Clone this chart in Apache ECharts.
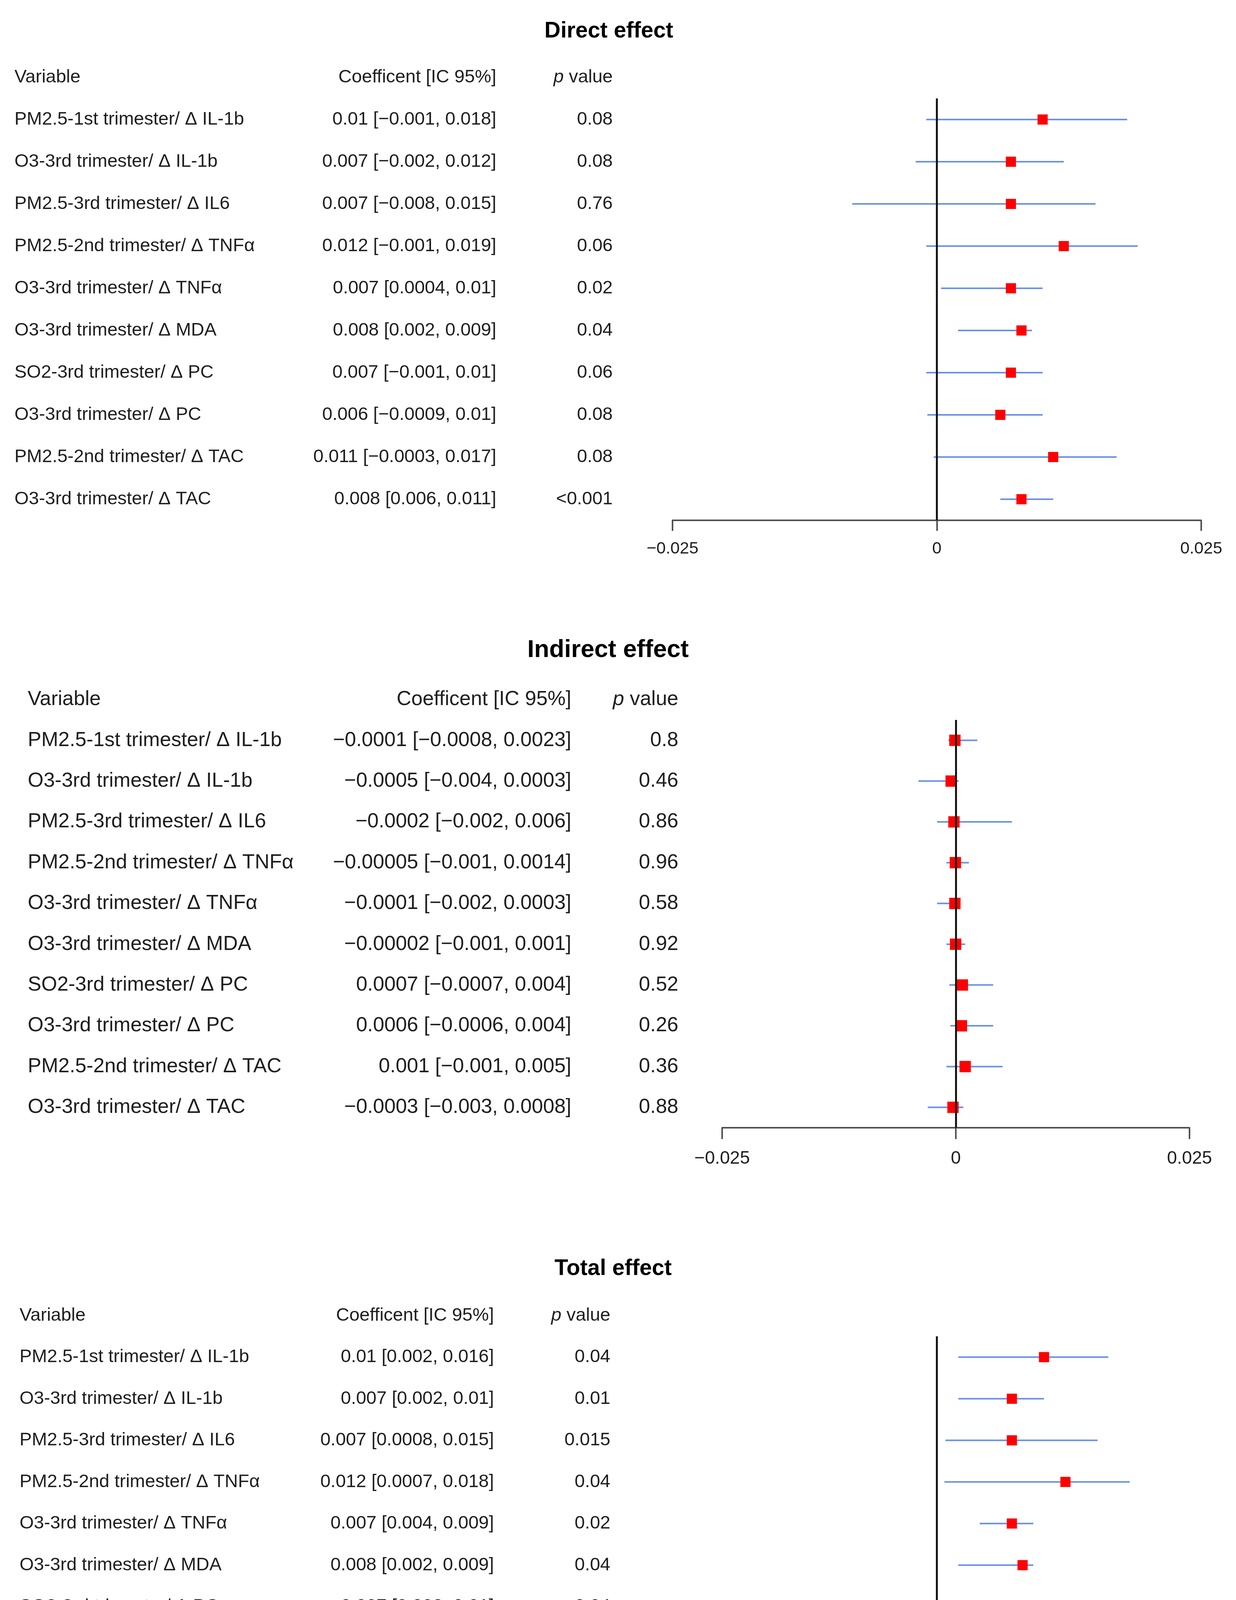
<!DOCTYPE html>
<html>
<head>
<meta charset="utf-8">
<script src="https://cdn.jsdelivr.net/npm/echarts@6/dist/echarts.min.js"></script>
<style>html,body{margin:0;padding:0;background:#fff;overflow:hidden}#c{width:3163px;height:4621px}</style>
</head>
<body>
<div id="c"></div>
<script>
// ---------- data ----------
const variables = [
  'PM2.5-1st trimester/ Δ IL-1b',
  'O3-3rd trimester/ Δ IL-1b',
  'PM2.5-3rd trimester/ Δ IL6',
  'PM2.5-2nd trimester/ Δ TNFα',
  'O3-3rd trimester/ Δ TNFα',
  'O3-3rd trimester/ Δ MDA',
  'SO2-3rd trimester/ Δ PC',
  'O3-3rd trimester/ Δ PC',
  'PM2.5-2nd trimester/ Δ TAC',
  'O3-3rd trimester/ Δ TAC'
];
const titles = ['Direct effect', 'Indirect effect', 'Total effect'];
const headers = ['Variable', 'Coefficent [IC 95%]', 'p value'];
const xTicks = [-0.025, 0, 0.025];

const directEst  = [0.01, 0.007, 0.007, 0.012, 0.007, 0.008, 0.007, 0.006, 0.011, 0.008];
const directLow  = [-0.001, -0.002, -0.008, -0.001, 0.0004, 0.002, -0.001, -0.0009, -0.0003, 0.006];
const directHigh = [0.018, 0.012, 0.015, 0.019, 0.01, 0.009, 0.01, 0.01, 0.017, 0.011];
const directP    = ['0.08', '0.08', '0.76', '0.06', '0.02', '0.04', '0.06', '0.08', '0.08', '<0.001'];

const indirectEst  = [-0.0001, -0.0005, -0.0002, -0.00005, -0.0001, -0.00002, 0.0007, 0.0006, 0.001, -0.0003];
const indirectLow  = [-0.0008, -0.004, -0.002, -0.001, -0.002, -0.001, -0.0007, -0.0006, -0.001, -0.003];
const indirectHigh = [0.0023, 0.0003, 0.006, 0.0014, 0.0003, 0.001, 0.004, 0.004, 0.005, 0.0008];
const indirectP    = ['0.8', '0.46', '0.86', '0.96', '0.58', '0.92', '0.52', '0.26', '0.36', '0.88'];

const totalEst  = [0.01, 0.007, 0.007, 0.012, 0.007, 0.008, 0.007, 0.007, 0.013, 0.008];
const totalLow  = [0.002, 0.002, 0.0008, 0.0007, 0.004, 0.002, 0.002, 0.0006, 0.0003, -0.0005];
const totalHigh = [0.016, 0.01, 0.015, 0.018, 0.009, 0.009, 0.01, 0.01, 0.018, 0.01];
const totalP    = ['0.04', '0.01', '0.015', '0.04', '0.02', '0.04', '0.04', '0.04', '0.04', '0.08'];

// ---------- layout / style (not data) ----------
const FONT = '"Liberation Sans", Arial, sans-serif';
const TEXT = '#1e1e1e';
const layouts = [
  {left: 1721, width: 1353, top: 252,  height: 1080, varX: 37, coefX: 1270, pX: 1568,
   titleX: 1558, titleY: 80,   font: 47, titleFont: 57, tickFont: 43, tickMargin: 52, tickLen: 27, marker: 26},
  {left: 1848, width: 1196, top: 1843, height: 1044, varX: 71, coefX: 1462, pX: 1736,
   titleX: 1556, titleY: 1665, font: 52, titleFont: 63, tickFont: 46, tickMargin: 56, tickLen: 29, marker: 29},
  {left: 1712, width: 1371, top: 3421, height: 1065, varX: 50, coefX: 1264, pX: 1562,
   titleX: 1569, titleY: 3248, font: 47, titleFont: 57, tickFont: 42, tickMargin: 46, tickLen: 27, marker: 26}
];
const panelData = [
  {est: directEst, low: directLow, high: directHigh, p: directP},
  {est: indirectEst, low: indirectLow, high: indirectHigh, p: indirectP},
  {est: totalEst, low: totalLow, high: totalHigh, p: totalP}
];

function fmt(v) {
  return (v < 0 ? '\u2212' : '') + String(Math.abs(v));
}
function tickFmt(v) {
  const r = Math.round(v * 100000) / 100000;
  if (r === 0) return '0';
  return (r < 0 ? '\u2212' : '') + String(Math.abs(r));
}

const grid = [], xAxis = [], yAxis = [], series = [], graphic = [];

layouts.forEach((L, i) => {
  const d = panelData[i];
  const band = L.height / variables.length;
  const idx = variables.map((_, k) => k);
  const coefText = d.est.map((v, k) => fmt(v) + ' [' + fmt(d.low[k]) + ', ' + fmt(d.high[k]) + ']');

  grid.push({left: L.left, top: L.top, width: L.width, height: L.height, outerBoundsMode: 'none', containLabel: false});

  xAxis.push({
    type: 'value', gridIndex: i, min: xTicks[0], max: xTicks[2], interval: xTicks[2] - xTicks[1],
    position: 'bottom',
    axisLine: {show: true, onZero: false, lineStyle: {color: '#505050', width: 4}},
    axisTick: {show: true, length: L.tickLen, lineStyle: {color: '#505050', width: 4}},
    axisLabel: {show: true, margin: L.tickMargin, fontSize: L.tickFont, fontFamily: FONT, color: TEXT,
                showMinLabel: true, showMaxLabel: true, formatter: tickFmt},
    splitLine: {show: false}
  });

  const base = {
    type: 'category', gridIndex: i, inverse: true, data: idx, position: 'left',
    axisLine: {show: false, onZero: false}, axisTick: {show: false}, splitLine: {show: false},
    nameLocation: 'start', nameGap: band / 2
  };
  const labelStyle = {fontSize: L.font, fontFamily: FONT, color: TEXT};
  const columns = [
    {x: L.varX, align: 'left', texts: variables, name: headers[0]},
    {x: L.coefX, align: 'right', texts: coefText, name: headers[1]},
    {x: L.pX, align: 'right', texts: d.p, name: '{i|p} value'}
  ];
  columns.forEach(col => {
    yAxis.push(Object.assign({}, base, {
      offset: L.left - col.x,
      axisLabel: Object.assign({interval: 0, margin: 0, align: col.align,
        formatter: (v) => col.texts[Number(v)]}, labelStyle),
      name: col.name,
      nameTextStyle: Object.assign({align: col.align, verticalAlign: 'middle',
        rich: {i: {fontStyle: 'italic', fontSize: L.font, fontFamily: FONT, color: TEXT}}}, labelStyle)
    }));
  });

  const yi = 3 * i;
  series.push({
    type: 'custom', xAxisIndex: i, yAxisIndex: yi, z: 1, silent: true,
    data: d.est.map((_, k) => [d.low[k], d.high[k], k]),
    encode: {x: [0, 1], y: 2},
    renderItem: (params, api) => {
      const a = api.coord([api.value(0), api.value(2)]);
      const b = api.coord([api.value(1), api.value(2)]);
      return {type: 'line', shape: {x1: a[0], y1: a[1], x2: b[0], y2: b[1]},
              style: {stroke: '#6891e8', lineWidth: 4}};
    }
  });
  series.push({
    type: 'line', xAxisIndex: i, yAxisIndex: yi, z: 2, data: [], silent: true,
    markLine: {silent: true, symbol: ['none', 'none'], label: {show: false},
               lineStyle: {color: '#141414', width: 5, type: 'solid'},
               data: [{xAxis: 0}], animation: false}
  });
  series.push({
    type: 'scatter', xAxisIndex: i, yAxisIndex: yi, z: 3, symbol: 'rect', symbolSize: L.marker,
    itemStyle: {color: '#ff0000', opacity: 1},
    data: d.est.map((v, k) => [v, k])
  });

  graphic.push({type: 'text', x: L.titleX, y: L.titleY, silent: true,
    style: {text: titles[i], fontSize: L.titleFont, fontWeight: 'bold', fontFamily: FONT,
            fill: '#000', align: 'center', verticalAlign: 'middle'}});
});

const chart = echarts.init(document.getElementById('c'), null, {renderer: 'canvas'});
chart.setOption({
  backgroundColor: '#ffffff',
  animation: false,
  grid, xAxis, yAxis, series, graphic
});
</script>
</body>
</html>
